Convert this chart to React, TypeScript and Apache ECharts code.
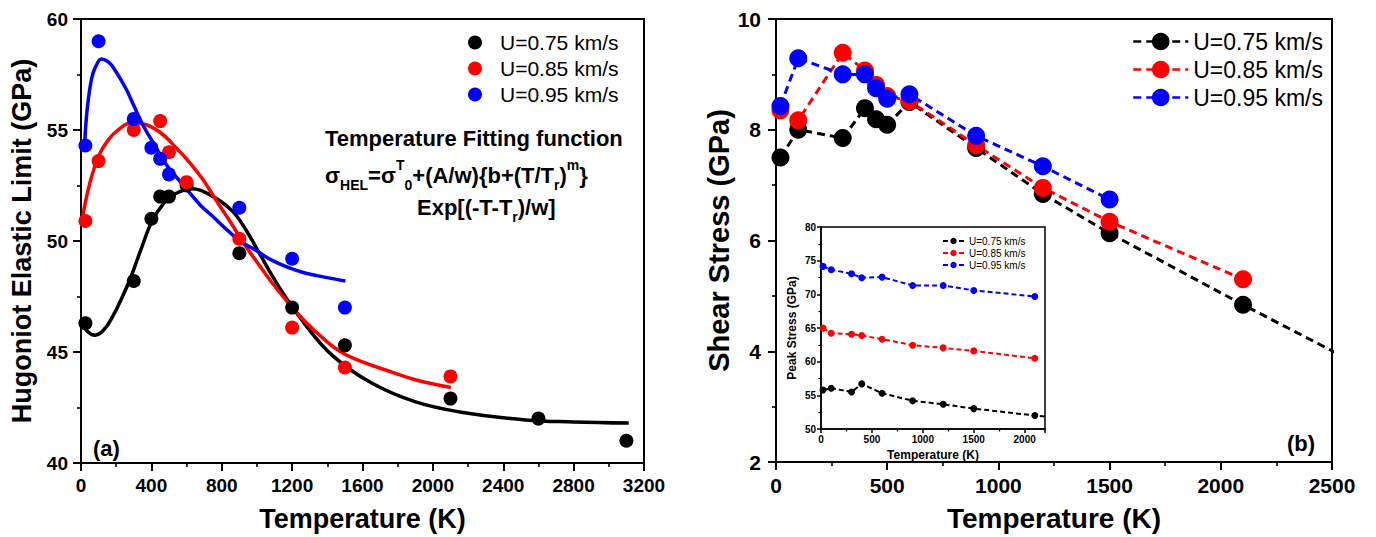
import React, { useEffect, useRef } from 'react';
import * as echarts from 'echarts';

const FONT = '"Liberation Sans", Arial, Helvetica, sans-serif';
const NAMES = ['U=0.75 km/s', 'U=0.85 km/s', 'U=0.95 km/s'];
const COLORS = ['#000000', '#ff0000', '#0000ff'];

// ---- Panel (a): Hugoniot elastic limit (GPa) vs temperature (K)
const helBlackT = [25, 300, 400, 450, 500, 600, 900, 1200, 1500, 2100, 2600, 3100];
const helBlackV = [46.3, 48.2, 51.0, 52.0, 52.0, 52.5, 49.45, 47.0, 45.3, 42.9, 42.0, 41.0];
const helRedT = [25, 100, 300, 450, 500, 600, 900, 1200, 1500, 2100];
const helRedV = [50.9, 53.6, 55.0, 55.4, 54.0, 52.65, 50.1, 46.1, 44.3, 43.9];
const helBlueT = [25, 100, 300, 400, 450, 500, 900, 1200, 1500];
const helBlueV = [54.3, 59.0, 55.5, 54.2, 53.7, 53.0, 51.5, 49.2, 47.0];

// fitted curves [T, GPa]
const fitBlack = [[5, 46.34], [40, 45.9], [80, 45.76], [130, 46.0], [180, 46.6], [230, 47.4], [280, 48.3], [340, 49.6], [404, 50.9], [470, 51.7], [530, 52.1], [630, 52.35], [729, 52.1], [854, 51.4], [930, 50.6], [1003, 49.6], [1128, 47.9], [1278, 46.2], [1428, 44.85], [1652, 43.6], [1902, 42.75], [2152, 42.3], [2526, 41.94], [2800, 41.85], [3113, 41.8]];
const fitRed = [[5, 50.9], [50, 52.6], [105, 53.9], [160, 54.6], [205, 54.96], [280, 55.3], [354, 55.27], [420, 55.05], [479, 54.7], [540, 54.2], [604, 53.66], [690, 52.8], [779, 51.7], [854, 50.8], [929, 49.85], [1000, 49.05], [1078, 48.2], [1180, 47.2], [1278, 46.34], [1378, 45.6], [1478, 45.0], [1600, 44.55], [1727, 44.2], [1900, 43.75], [2102, 43.4]];
const fitBlue = [[20, 54.27], [30, 55.5], [42, 56.4], [60, 57.3], [80, 57.8], [117, 58.2], [150, 58.1], [180, 57.86], [255, 56.87], [300, 56.1], [354, 55.19], [420, 54.3], [479, 53.5], [540, 52.9], [604, 52.3], [680, 51.6], [754, 51.07], [830, 50.5], [904, 50.0], [1000, 49.55], [1078, 49.16], [1180, 48.8], [1278, 48.55], [1400, 48.35], [1503, 48.2]];

// ---- Panel (b): shear stress (GPa)
const shearBlackT = [20, 100, 300, 400, 450, 500, 600, 900, 1200, 1500, 2100, 2600];
const shearBlackV = [7.5, 8.0, 7.85, 8.39, 8.19, 8.09, 8.5, 7.67, 6.84, 6.13, 4.84, 3.8];
const shearRedT = [20, 100, 300, 400, 450, 500, 600, 900, 1200, 1500, 2100];
const shearRedV = [8.35, 8.17, 9.39, 9.07, 8.81, 8.61, 8.52, 7.72, 6.95, 6.34, 5.3];
const shearBlueT = [20, 100, 300, 400, 450, 500, 600, 900, 1200, 1500];
const shearBlueV = [8.43, 9.29, 9.0, 9.0, 8.75, 8.56, 8.64, 7.89, 7.34, 6.74];

// ---- Inset: peak stress (GPa)
const peakT = [20, 100, 300, 400, 600, 900, 1200, 1500, 2100];
const peakBlackT = [20, 100, 300, 400, 600, 900, 1200, 1500, 2100, 2600];
const peakBlackV = [55.8, 56.05, 55.5, 56.7, 55.3, 54.2, 53.67, 53.03, 52.0, 51.2];
const peakRedV = [64.98, 64.23, 64.08, 63.89, 63.34, 62.45, 62.05, 61.6, 60.5];
const peakBlueV = [74.15, 73.65, 73.06, 72.46, 72.56, 71.32, 71.32, 70.58, 69.69];

const zip = (t: number[], v: number[]) => t.map((x, i) => [x, v[i]]);

function axisBase(opts: any) {
  const {
    grid, min, max, interval, name, nameGap, nameSize, labelSize, margin, tickLen, minorLen, width, vertical,
  } = opts;
  return {
    gridIndex: grid,
    type: 'value',
    min,
    max,
    interval,
    name,
    nameLocation: 'middle',
    nameGap,
    nameRotate: vertical ? 90 : 0,
    nameTextStyle: { fontSize: nameSize, fontWeight: 'bold', color: '#000', fontFamily: FONT },
    axisLine: { show: true, onZero: false, lineStyle: { color: '#000', width } },
    axisTick: { show: true, inside: false, length: tickLen, lineStyle: { color: '#000', width } },
    minorTick: { show: true, splitNumber: 2, length: minorLen, lineStyle: { color: '#000', width: width * 0.8 } },
    splitLine: { show: false },
    minorSplitLine: { show: false },
    axisLabel: {
      fontSize: labelSize,
      fontWeight: 'bold',
      color: '#000',
      margin,
      fontFamily: FONT,
      showMaxLabel: opts.showMax !== false,
      formatter: (v: number) => String(v),
    },
  };
}

export default function App() {
  const ref = useRef<HTMLDivElement>(null);
  useEffect(() => {
    if (!ref.current) return;
    const chart = echarts.init(ref.current, undefined, { renderer: 'svg' });
    const gridBox = (left: number, top: number, width: number, height: number, bw: number) => ({
      left, top, width, height, show: true, borderColor: '#000', borderWidth: bw, backgroundColor: 'transparent',
    });

    const helSets = [zip(helBlackT, helBlackV), zip(helRedT, helRedV), zip(helBlueT, helBlueV)];
    const fits = [fitBlack, fitRed, fitBlue];
    const shearSets = [zip(shearBlackT, shearBlackV), zip(shearRedT, shearRedV), zip(shearBlueT, shearBlueV)];
    const peakSets = [zip(peakBlackT, peakBlackV), zip(peakT, peakRedV), zip(peakT, peakBlueV)];

    const series: any[] = [];
    fits.forEach((d, i) => {
      series.push({
        type: 'line', name: 'fit' + i, xAxisIndex: 0, yAxisIndex: 0, data: d, smooth: 0.4, showSymbol: false,
        symbol: 'none', lineStyle: { color: COLORS[i], width: 3.5 }, z: 2,
      });
    });
    helSets.forEach((d, i) => {
      series.push({
        type: 'scatter', name: NAMES[i], xAxisIndex: 0, yAxisIndex: 0, data: d, symbol: 'circle', symbolSize: 14,
        itemStyle: { color: COLORS[i], opacity: 1 }, z: 3,
      });
    });
    shearSets.forEach((d, i) => {
      series.push({
        type: 'line', name: 'B ' + NAMES[i], xAxisIndex: 1, yAxisIndex: 1, data: d, symbol: 'circle', symbolSize: 18,
        showAllSymbol: true, clip: true,
        itemStyle: { color: COLORS[i] }, lineStyle: { color: COLORS[i], width: 3, type: [8, 5] }, z: 3,
      });
    });
    peakSets.forEach((d, i) => {
      series.push({
        type: 'line', name: 'C ' + NAMES[i], xAxisIndex: 2, yAxisIndex: 2, data: d, symbol: 'circle', symbolSize: 7,
        showAllSymbol: true, clip: true,
        itemStyle: { color: COLORS[i] }, lineStyle: { color: COLORS[i], width: 2, type: [5, 3] }, z: 3,
      });
    });

    const formulaRich = {
      m: { fontSize: 22, fontWeight: 'bold', lineHeight: 34, fontFamily: FONT, fill: '#000' },
      sub: { fontSize: 14, fontWeight: 'bold', lineHeight: 14, verticalAlign: 'bottom', fontFamily: FONT, fill: '#000' },
      sup: { fontSize: 14, fontWeight: 'bold', lineHeight: 14, verticalAlign: 'top', fontFamily: FONT, fill: '#000' },
    };

    chart.setOption({
      animation: false,
      backgroundColor: '#ffffff',
      textStyle: { fontFamily: FONT },
      grid: [
        gridBox(81, 19, 563, 448, 2),
        gridBox(776, 19, 556, 448, 2),
        gridBox(821, 227, 224, 202, 1.5),
      ],
      xAxis: [
        axisBase({ grid: 0, min: 0, max: 3200, interval: 400, name: 'Temperature (K)', nameGap: 42, nameSize: 27, labelSize: 19, margin: 13, tickLen: 8, minorLen: 4, width: 2 }),
        axisBase({ grid: 1, min: 0, max: 2500, interval: 500, name: 'Temperature (K)', nameGap: 42, nameSize: 28, labelSize: 21, margin: 13, tickLen: 8, minorLen: 4, width: 2 }),
        axisBase({ grid: 2, min: 0, max: 2200, interval: 500, name: 'Temperature (K)', nameGap: 20, nameSize: 12, labelSize: 10, margin: 5, tickLen: 4, minorLen: 2.5, width: 1.5, showMax: false }),
      ],
      yAxis: [
        axisBase({ grid: 0, min: 40, max: 60, interval: 5, name: 'Hugoniot Elastic Limit (GPa)', nameGap: 46, nameSize: 27, labelSize: 19, margin: 13, tickLen: 8, minorLen: 4, width: 2, vertical: true }),
        axisBase({ grid: 1, min: 2, max: 10, interval: 2, name: 'Shear Stress (GPa)', nameGap: 42, nameSize: 29, labelSize: 21, margin: 15, tickLen: 8, minorLen: 4, width: 2, vertical: true }),
        axisBase({ grid: 2, min: 50, max: 80, interval: 5, name: 'Peak Stress (GPa)', nameGap: 23, nameSize: 12, labelSize: 10, margin: 5, tickLen: 4, minorLen: 2.5, width: 1.5, vertical: true }),
      ],
      legend: [
        {
          data: NAMES, orient: 'vertical', left: 463, top: 27, itemWidth: 14, itemHeight: 14, itemGap: 5, icon: 'circle',
          textStyle: { fontSize: 21, color: '#000', fontFamily: FONT, padding: [0, 0, 0, 13] },
          selectedMode: false,
        },
        {
          data: NAMES.map((n) => 'B ' + n), orient: 'vertical', left: 1127, top: 25, itemWidth: 55, itemHeight: 22, itemGap: 5,
          formatter: (n: string) => n.slice(2),
          lineStyle: { width: 2.5 },
          textStyle: { fontSize: 23, color: '#000', fontFamily: FONT },
          selectedMode: false,
        },
        {
          data: NAMES.map((n) => 'C ' + n), orient: 'vertical', left: 937, top: 231, itemWidth: 21, itemHeight: 8, itemGap: 2,
          formatter: (n: string) => n.slice(2),
          textStyle: { fontSize: 10, color: '#000', fontFamily: FONT },
          selectedMode: false,
        },
      ],
      graphic: [
        {
          type: 'text', x: 325, y: 138,
          style: { text: 'Temperature Fitting function', fontSize: 22, fontWeight: 'bold', fontFamily: FONT, fill: '#000', textVerticalAlign: 'middle' },
        },
        {
          type: 'text', x: 325, y: 175,
          style: {
            text: '{m|σ}{sub|HEL}{m|=σ}{sup|T}{sub|0}{m|+(A/w){b+(T/T}{sub|r}{m|)}{sup|m}}',
            rich: formulaRich, fontSize: 22, fontWeight: 'bold', lineHeight: 34, fontFamily: FONT, fill: '#000', textVerticalAlign: 'middle',
          },
        },
        {
          type: 'text', x: 417, y: 207,
          style: {
            text: '{m|Exp[(-T-T}{sub|r}{m|)/w]}',
            rich: formulaRich, fontSize: 22, fontWeight: 'bold', lineHeight: 34, fontFamily: FONT, fill: '#000', textVerticalAlign: 'middle',
          },
        },
        {
          type: 'text', x: 93, y: 448,
          style: { text: '(a)', fontSize: 22, fontWeight: 'bold', fontFamily: FONT, fill: '#000', textVerticalAlign: 'middle' },
        },
        {
          type: 'text', x: 1287, y: 443,
          style: { text: '(b)', fontSize: 22, fontWeight: 'bold', fontFamily: FONT, fill: '#000', textVerticalAlign: 'middle' },
        },
      ],
      series,
    });
    return () => chart.dispose();
  }, []);

  return <div ref={ref} style={{ position: 'fixed', left: 0, top: 0, width: 1376, height: 537 }} />;
}
